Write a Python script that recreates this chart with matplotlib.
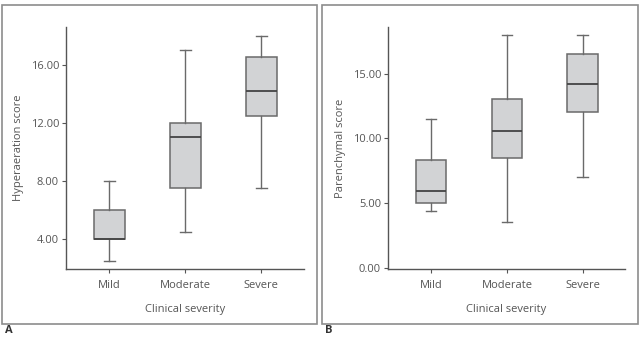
import matplotlib
matplotlib.use('Agg')
import matplotlib.pyplot as plt
from matplotlib.patches import Rectangle

categories = ['Mild', 'Moderate', 'Severe']

# panel A: hyperaeration score (whislo, q1, med, q3, whishi)
hyper_lo = [2.5, 4.5, 7.5]
hyper_q1 = [4.0, 7.5, 12.5]
hyper_med = [4.0, 11.0, 14.2]
hyper_q3 = [6.0, 12.0, 16.5]
hyper_hi = [8.0, 17.0, 18.0]
hyper_ticks = [4, 8, 12, 16]

# panel B: parenchymal score
paren_lo = [4.4, 3.5, 7.0]
paren_q1 = [5.0, 8.5, 12.0]
paren_med = [5.9, 10.6, 14.2]
paren_q3 = [8.3, 13.0, 16.5]
paren_hi = [11.5, 18.0, 18.0]
paren_ticks = [0, 5, 10, 15]

W, H = 641, 337
fig = plt.figure(figsize=(W / 100, H / 100), dpi=100)
plt.rcParams['font.family'] = ['Open Sans', 'DejaVu Sans']

text_c = '#555555'
edge_c = '#6a6a6a'


def stats(lo, q1, med, q3, hi):
    return [dict(whislo=a, q1=b, med=c, q3=d, whishi=e, fliers=[])
            for a, b, c, d, e in zip(lo, q1, med, q3, hi)]


def panel(rect, data, ticks, ylim, ylabel, frame, letter):
    # grey frame around the panel
    fig.patches.append(Rectangle((frame[0] / W, 1 - frame[3] / H),
                                 (frame[2] - frame[0]) / W, (frame[3] - frame[1]) / H,
                                 transform=fig.transFigure, fill=False,
                                 edgecolor='#8c8c8c', lw=1.2))
    fig.text(frame[0] / W + 0.004, 0.012, letter, fontsize=8, fontweight='bold',
             color='#333333')
    ax = fig.add_axes([rect[0] / W, 1 - rect[3] / H,
                       (rect[2] - rect[0]) / W, (rect[3] - rect[1]) / H])
    ax.bxp(data, positions=[1, 2, 3], widths=0.4, showfliers=False,
           patch_artist=True,
           boxprops=dict(facecolor='#d2d3d5', edgecolor=edge_c, lw=1.1),
           whiskerprops=dict(color=edge_c, lw=1.0),
           capprops=dict(color=edge_c, lw=1.0),
           medianprops=dict(color='#444444', lw=1.3),
           capwidths=0.14)
    ax.set_xlim(0.43, 3.56)
    ax.set_ylim(*ylim)
    ax.set_yticks(ticks)
    ax.set_yticklabels(['%.2f' % t for t in ticks])
    ax.set_xticks([1, 2, 3])
    ax.set_xticklabels(categories)
    for s in ['top', 'right']:
        ax.spines[s].set_visible(False)
    for s in ['left', 'bottom']:
        ax.spines[s].set_color('#555555')
        ax.spines[s].set_linewidth(1.0)
    ax.tick_params(axis='y', length=3, color='#555555', labelcolor=text_c,
                   labelsize=8, pad=2)
    ax.tick_params(axis='x', length=3, color='#555555', labelcolor=text_c,
                   labelsize=8, pad=5)
    ax.set_xlabel('Clinical severity', color=text_c, fontsize=8, labelpad=9)
    ax.set_ylabel(ylabel, color=text_c, fontsize=8, labelpad=5)
    return ax


panel((66, 27, 304, 269),
      stats(hyper_lo, hyper_q1, hyper_med, hyper_q3, hyper_hi),
      hyper_ticks, (1.93, 18.6), 'Hyperaeration score', (2, 5, 317, 324), 'A')
panel((388, 27, 625, 269),
      stats(paren_lo, paren_q1, paren_med, paren_q3, paren_hi),
      paren_ticks, (-0.1, 18.6), 'Parenchymal score', (322, 5, 638, 324), 'B')

fig.savefig('out.png', dpi=100, facecolor='white')
